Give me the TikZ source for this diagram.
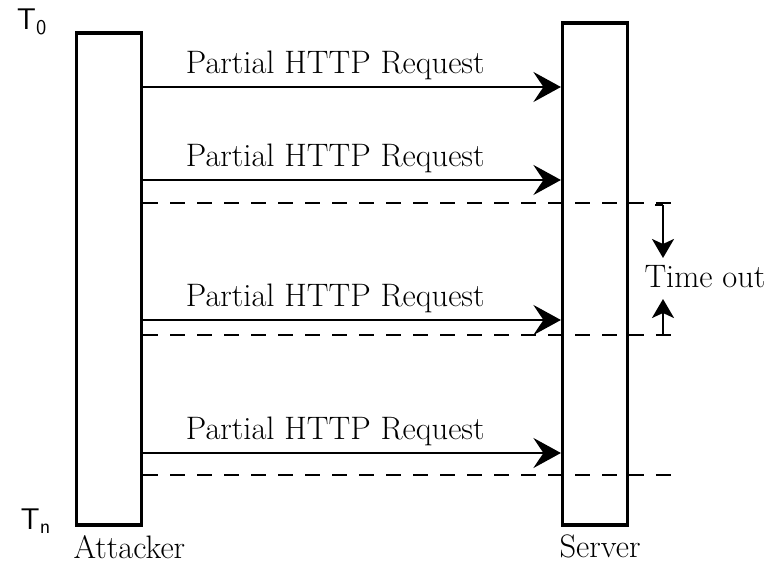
\documentclass[tikz,border=0pt]{standalone}
\usepackage{tikz}
\usetikzlibrary{arrows.meta,positioning,calc}

\begin{document}
\begin{tikzpicture}[
  x=0.02cm, y=-0.02cm,
  every node/.style={font=\fontsize{18.5}{21}\selectfont},
  lifeline/.style={draw, line width=1.8pt, minimum width=1.3cm, inner sep=0pt},
  arrow/.style={-{Stealth[length=5.5mm, width=6mm, inset=2mm]}, line width=1.6pt},
  tick/.style={dashed, dash pattern=on 0.3cm off 0.24cm, line width=1.3pt},
  short/.style={-{Stealth[length=3.8mm, width=4.4mm, inset=1mm]}, line width=1.4pt},
  req/.style={inner sep=1pt}
]
\useasboundingbox (0,0) rectangle (766,563);
% the two parties
\node[lifeline, minimum height=9.84cm] (attacker) at (109,279) {};
\node[lifeline, minimum height=10.04cm, minimum width=1.3cm] (server) at (595,274) {};
\node[below right=0.5mm and -1.5mm of attacker.south west] (attname) {Attacker};
\node[below=0.5mm of server, xshift=1mm] (srvname) {Server};
\node[font=\fontsize{17}{19}\sffamily] (t0) at (32,22) {T\textsubscript{0}};
\node[font=\fontsize{17}{19}\sffamily] (tn) at (36,521) {T\textsubscript{n}};
% requests
\foreach \y/\n in {87/a, 180/b, 320/c, 453/d}{
  \coordinate (s\n) at (attacker.east |- 0,\y);
  \coordinate (e\n) at (server.west |- 0,\y);
  \draw[arrow] (s\n) -- (e\n);
  \node[req, above=1mm of $(s\n)!0.46!(e\n)$] (lbl\n) {Partial HTTP Request};
}
% time lines
\foreach \y/\n in {203/p, 335/q, 475/r}{
  \coordinate (d\n) at (attacker.east |- 0,\y);
  \coordinate (f\n) at (672,\y);
  \draw[tick] (d\n) -- (f\n);
}
% time out
\node (timeout) at (705,277) {Time out};
\coordinate (top) at (663,205);
\coordinate (bot) at (663,335);
\draw[line width=1.4pt] (655,205) -- (top);
\draw[short] (top) -- (663,258);
\draw[short] (bot) -- (663,299);
\end{tikzpicture}
\end{document}
